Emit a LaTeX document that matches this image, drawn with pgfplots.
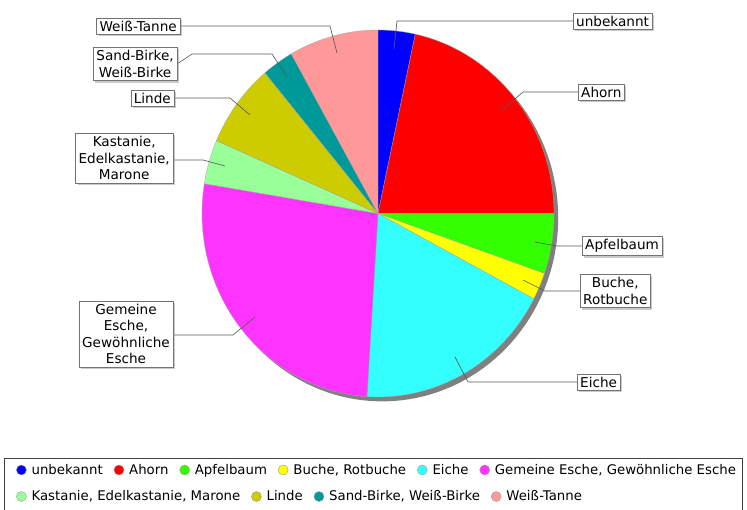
\documentclass[border=0pt]{standalone}
\usepackage{pgfplots}
\pgfplotsset{compat=1.18}
\usepackage{fontspec}
\setmainfont{DejaVu Sans}
\usetikzlibrary{shadows}

\definecolor{cA}{RGB}{0,0,255}
\definecolor{cB}{RGB}{255,0,0}
\definecolor{cC}{RGB}{51,255,0}
\definecolor{cD}{RGB}{255,255,0}
\definecolor{cE}{RGB}{51,255,255}
\definecolor{cF}{RGB}{255,51,255}
\definecolor{cG}{RGB}{153,255,153}
\definecolor{cH}{RGB}{204,204,0}
\definecolor{cI}{RGB}{0,153,153}
\definecolor{cJ}{RGB}{255,153,153}

% shares in percent (clockwise from 12 o'clock)
\def\vA{3.4}  % unbekannt
\def\vB{21.6} % Ahorn
\def\vC{5.3}  % Apfelbaum
\def\vD{2.4}  % Buche, Rotbuche
\def\vE{18.3} % Eiche
\def\vF{26.6} % Gemeine Esche
\def\vG{3.9}  % Kastanie
\def\vH{7.4}  % Linde
\def\vI{2.9}  % Sand-Birke
\def\vJ{8.2}  % Weiss-Tanne

\pgfplotsset{
  legend image code/.code={\filldraw[#1] (5pt,0pt) circle (5pt);},
  mylegend/.style={legend style={anchor=west, draw=none, fill=none,
    legend columns=-1, font=\fontsize{13.3}{15}\selectfont,
    nodes={inner sep=1pt},
    /tikz/every odd column/.append style={column sep=4pt},
    /tikz/every even column/.append style={column sep=10pt}}},
}
\tikzset{lbl/.style={draw=black!55, fill=white, inner xsep=3pt, inner ysep=3pt, align=center,
  font=\fontsize{13.6}{16.5}\selectfont,
  drop shadow={shadow xshift=2pt, shadow yshift=-2pt, fill=black!35, opacity=0.6}},
  lead/.style={draw=black!65, line width=0.65pt}}

\begin{document}
\begin{tikzpicture}
\useasboundingbox (0,0) rectangle (747pt,509pt);
\pgfmathsetmacro{\eA}{3.6*\vA}
\pgfmathsetmacro{\eB}{\eA+3.6*\vB}
\pgfmathsetmacro{\eC}{\eB+3.6*\vC}
\pgfmathsetmacro{\eD}{\eC+3.6*\vD}
\pgfmathsetmacro{\eE}{\eD+3.6*\vE}
\pgfmathsetmacro{\eF}{\eE+3.6*\vF}
\pgfmathsetmacro{\eG}{\eF+3.6*\vG}
\pgfmathsetmacro{\eH}{\eG+3.6*\vH}
\pgfmathsetmacro{\eI}{\eH+3.6*\vI}
\pgfmathsetmacro{\eJ}{\eI+3.6*\vJ}
\begin{axis}[at={(0pt,0pt)}, anchor=south west, scale only axis,
  x=176pt, y=183.5pt, xmin=-2.1477, xmax=2.0966, ymin=-1.6104, ymax=1.1635,
  hide axis, clip=false, mylegend,
  legend style={at={(13/747,39/509)}}]
\addplot[fill=black!50, draw=none, domain=0:360, samples=150, forget plot] ({sin(x)+0.024},{cos(x)-0.024}) -- cycle;
\addplot[fill=cA, draw=black!35, line width=0.3pt, domain=0:\eA, samples=10, forget plot] ({sin(x)},{cos(x)}) -- (axis cs:0,0) -- cycle;
\addplot[fill=cB, draw=black!35, line width=0.3pt, domain=\eA:\eB, samples=50, forget plot] ({sin(x)},{cos(x)}) -- (axis cs:0,0) -- cycle;
\addplot[fill=cC, draw=black!35, line width=0.3pt, domain=\eB:\eC, samples=15, forget plot] ({sin(x)},{cos(x)}) -- (axis cs:0,0) -- cycle;
\addplot[fill=cD, draw=black!35, line width=0.3pt, domain=\eC:\eD, samples=10, forget plot] ({sin(x)},{cos(x)}) -- (axis cs:0,0) -- cycle;
\addplot[fill=cE, draw=black!35, line width=0.3pt, domain=\eD:\eE, samples=45, forget plot] ({sin(x)},{cos(x)}) -- (axis cs:0,0) -- cycle;
\addplot[fill=cF, draw=black!35, line width=0.3pt, domain=\eE:\eF, samples=60, forget plot] ({sin(x)},{cos(x)}) -- (axis cs:0,0) -- cycle;
\addplot[fill=cG, draw=black!35, line width=0.3pt, domain=\eF:\eG, samples=12, forget plot] ({sin(x)},{cos(x)}) -- (axis cs:0,0) -- cycle;
\addplot[fill=cH, draw=black!35, line width=0.3pt, domain=\eG:\eH, samples=20, forget plot] ({sin(x)},{cos(x)}) -- (axis cs:0,0) -- cycle;
\addplot[fill=cI, draw=black!35, line width=0.3pt, domain=\eH:\eI, samples=10, forget plot] ({sin(x)},{cos(x)}) -- (axis cs:0,0) -- cycle;
\addplot[fill=cJ, draw=black!35, line width=0.3pt, domain=\eI:\eJ, samples=22, forget plot] ({sin(x)},{cos(x)}) -- (axis cs:0,0) -- cycle;
\addlegendimage{fill=cA, draw=black!40}\addlegendentry{unbekannt}
\addlegendimage{fill=cB, draw=black!40}\addlegendentry{Ahorn}
\addlegendimage{fill=cC, draw=black!40}\addlegendentry{Apfelbaum}
\addlegendimage{fill=cD, draw=black!40}\addlegendentry{Buche, Rotbuche}
\addlegendimage{fill=cE, draw=black!40}\addlegendentry{Eiche}
\addlegendimage{fill=cF, draw=black!40}\addlegendentry{Gemeine Esche, Gewöhnliche Esche}
\end{axis}
\begin{axis}[at={(0pt,0pt)}, anchor=south west, scale only axis,
  x=176pt, y=183.5pt, xmin=-2.1477, xmax=2.0966, ymin=-1.6104, ymax=1.1635,
  hide axis, clip=false, mylegend,
  legend style={at={(13/747,12.5/509)}}]
\addplot[draw=none, forget plot] coordinates {(0,0)};
\addlegendimage{fill=cG, draw=black!40}\addlegendentry{Kastanie, Edelkastanie, Marone}
\addlegendimage{fill=cH, draw=black!40}\addlegendentry{Linde}
\addlegendimage{fill=cI, draw=black!40}\addlegendentry{Sand-Birke, Weiß-Birke}
\addlegendimage{fill=cJ, draw=black!40}\addlegendentry{Weiß-Tanne}
\end{axis}
\begin{scope}[x=1pt, y=-1pt, shift={(0pt,509pt)}]
\draw[black!75, line width=0.7pt] (4,458) rectangle (742,510);
% leaders
\draw[lead] (394,49) -- (397,21) -- (573,21);
\draw[lead] (502,110) -- (523,92) -- (578,92);
\draw[lead] (535,242) -- (557,246) -- (582,246);
\draw[lead] (523,280) -- (545,291) -- (580,291);
\draw[lead] (455,357) -- (468,382) -- (577,382);
\draw[lead] (255,317) -- (233,335) -- (173,335);
\draw[lead] (225,166) -- (203,160) -- (173,160);
\draw[lead] (250,115) -- (230,98) -- (174,98);
\draw[lead] (287,77) -- (272,54) -- (192,54) -- (177,64);
\draw[lead] (337,53) -- (330,26) -- (180,26);
% labels
\node[lbl, anchor=west] at (573,21) {unbekannt};
\node[lbl, anchor=west] at (578,92) {Ahorn};
\node[lbl, anchor=west] at (582,246) {Apfelbaum};
\node[lbl, anchor=west] at (580,291) {Buche,\\Rotbuche};
\node[lbl, anchor=west] at (577,382) {Eiche};
\node[lbl, anchor=east] at (173,334) {Gemeine\\Esche,\\Gewöhnliche\\Esche};
\node[lbl, anchor=east] at (173,158) {Kastanie,\\Edelkastanie,\\Marone};
\node[lbl, anchor=east] at (174,98) {Linde};
\node[lbl, anchor=east] at (177,64) {Sand-Birke,\\Weiß-Birke};
\node[lbl, anchor=east] at (180,26) {Weiß-Tanne};
\end{scope}
\end{tikzpicture}
\end{document}
